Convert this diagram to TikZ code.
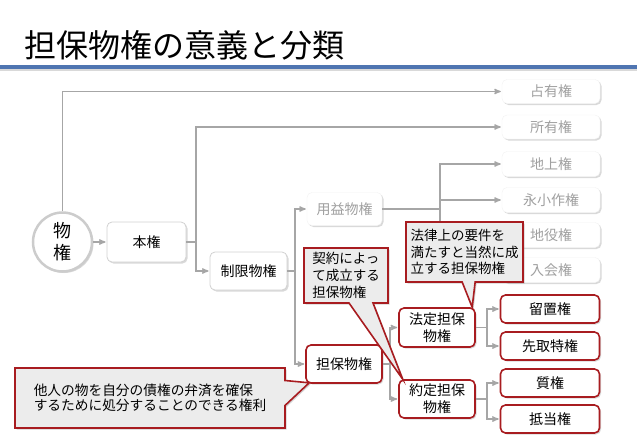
\documentclass[tikz,border=0pt]{standalone}
\usepackage{fontspec}
\setmainfont{Noto Sans CJK JP}
\usepackage{tikz}
\usetikzlibrary{arrows,shapes.callouts,shadows}

\definecolor{linegray}{RGB}{166,166,166}
\definecolor{boxred}{RGB}{168,28,32}
\definecolor{notefill}{RGB}{236,236,236}
\definecolor{fadetext}{RGB}{160,160,160}
\definecolor{ruleblue}{RGB}{79,117,177}

\begin{document}
\begin{tikzpicture}[->,>=stealth',shorten >=1pt,x=1pt,y=-1pt,
                    every node/.style={font=\fontsize{14}{16.7}\selectfont}]
  \tikzstyle{base}=[rectangle,rounded corners=5pt,fill=white,align=center,inner sep=0pt,
                    drop shadow={shadow xshift=1.5pt,shadow yshift=-1.5pt,opacity=0.3}]
  \tikzstyle{plain}=[base,draw=black!18,line width=0.8pt]
  \tikzstyle{faded}=[base,draw=black!5,text=fadetext,minimum width=98pt,minimum height=25pt]
  \tikzstyle{secured}=[base,draw=boxred,line width=1.6pt]
  \tikzstyle{leaf}=[secured,minimum width=99pt,minimum height=28pt]
  \tikzstyle{note}=[rectangle callout,draw=boxred,line width=1.6pt,fill=notefill,
                    align=left,inner sep=0pt,font=\fontsize{13.5}{16.7}\selectfont,
                    drop shadow={shadow xshift=1.5pt,shadow yshift=-1.5pt,opacity=0.35}]
  \tikzstyle{elbow}=[to path={|- (\tikztotarget)}]
  \tikzstyle{stem}=[-,shorten >=0pt]
  \tikzstyle{every edge}=[draw=linegray,line width=1.3pt]

  \useasboundingbox (0,0) rectangle (638,442);

  % title
  \node[anchor=west,inner sep=0pt,font=\fontsize{32}{36}\selectfont] (title) at (24,45)
       {担保物権の意義と分類};
  \draw[-,black!15,line width=2pt] (0,70) -- (638,70);
  \draw[-,ruleblue,line width=3.5pt] (0,67) -- (638,67);

  % tree
  \node[circle,fill=white,draw=black!20,line width=2.5pt,minimum size=59pt,inner sep=0pt,
        align=center,font=\fontsize{18}{22}\selectfont,
        drop shadow={shadow xshift=1.5pt,shadow yshift=-1.5pt,opacity=0.3}]
        (bukken) at (62.5,242) {物\\権};
  \node[plain,minimum width=79pt,minimum height=40pt] (honken) at (146.5,242) {本権};
  \node[plain,minimum width=77pt,minimum height=38pt] (seigen) at (248.5,271) {制限物権};
  \node[faded,minimum width=75pt,minimum height=33pt] (yoeki) at (344.5,209) {用益物権};
  \node[secured,minimum width=76pt,minimum height=38pt] (tanpo) at (344,364) {担保物権};
  \node[secured,minimum width=76pt,minimum height=39pt] (hotei) at (437,327.5) {法定担保\\物権};
  \node[secured,minimum width=76pt,minimum height=38pt] (yakutei) at (437,399) {約定担保\\物権};

  \node[faded,minimum height=24pt] (senyu) at (551,91.5) {占有権};
  \node[faded,minimum height=24pt] (shoyu) at (551,127) {所有権};
  \node[faded] (chijo) at (551,164) {地上権};
  \node[faded] (eikosaku) at (551,200) {永小作権};
  \node[faded] (chieki) at (551,235) {地役権};
  \node[faded] (iriai) at (551,270) {入会権};

  \node[leaf] (ryuchi) at (550,309) {留置権};
  \node[leaf] (sakidori) at (550,346) {先取特権};
  \node[leaf] (shichi) at (550,383) {質権};
  \node[leaf] (teito) at (550,419) {抵当権};

  \coordinate (j1) at (196,242);
  \coordinate (j2) at (295,271);
  \coordinate (j3) at (440,209);
  \coordinate (j4) at (390,364);
  \coordinate (j5) at (487,327.5);
  \coordinate (j6) at (487,399);

  \path (bukken.north) edge[elbow] (senyu.west)
        (bukken) edge (honken)
        (honken) edge[stem] (j1)
        (j1) edge[elbow] (shoyu.west)
        (j1) edge[elbow] (seigen.west)
        (seigen) edge[stem] (j2)
        (j2) edge[elbow] (yoeki.west)
        (j2) edge[elbow] (tanpo.west)
        (yoeki) edge[stem] (j3)
        (j3) edge[elbow] (chijo.west)
        (j3) edge[elbow] (eikosaku.west)
        (j3) edge[elbow] (chieki.west)
        (j3) edge[elbow] (iriai.west)
        (tanpo) edge[stem] (j4)
        (j4) edge[elbow] (hotei.west)
        (j4) edge[elbow] (yakutei.west)
        (hotei) edge[stem] (j5)
        (j5) edge[elbow] (ryuchi.west)
        (j5) edge[elbow] (sakidori.west)
        (yakutei) edge[stem] (j6)
        (j6) edge[elbow] (shichi.west)
        (j6) edge[elbow] (teito.west);

  % callouts
  \node[note,minimum width=84pt,minimum height=55pt,callout pointer width=24pt,
        callout absolute pointer={(yakutei.150)}] (keiyaku) at (346,275.5)
       {契約によっ\\て成立する\\担保物権};
  \node[note,minimum width=117pt,minimum height=60pt,callout pointer width=13pt,
        callout absolute pointer={(hotei.30)}] (horitsu) at (464.5,252)
       {法律上の要件を\\満たすと当然に成\\立する担保物権};
  \node[note,minimum width=270pt,minimum height=60pt,callout pointer width=25pt,
        font=\fontsize{13.7}{15.5}\selectfont,
        callout absolute pointer={([shift={(4,-1)}]tanpo.south west)}] (purpose) at (150,398)
       {他人の物を自分の債権の弁済を確保\\するために処分することのできる権利};

\end{tikzpicture}
\end{document}
